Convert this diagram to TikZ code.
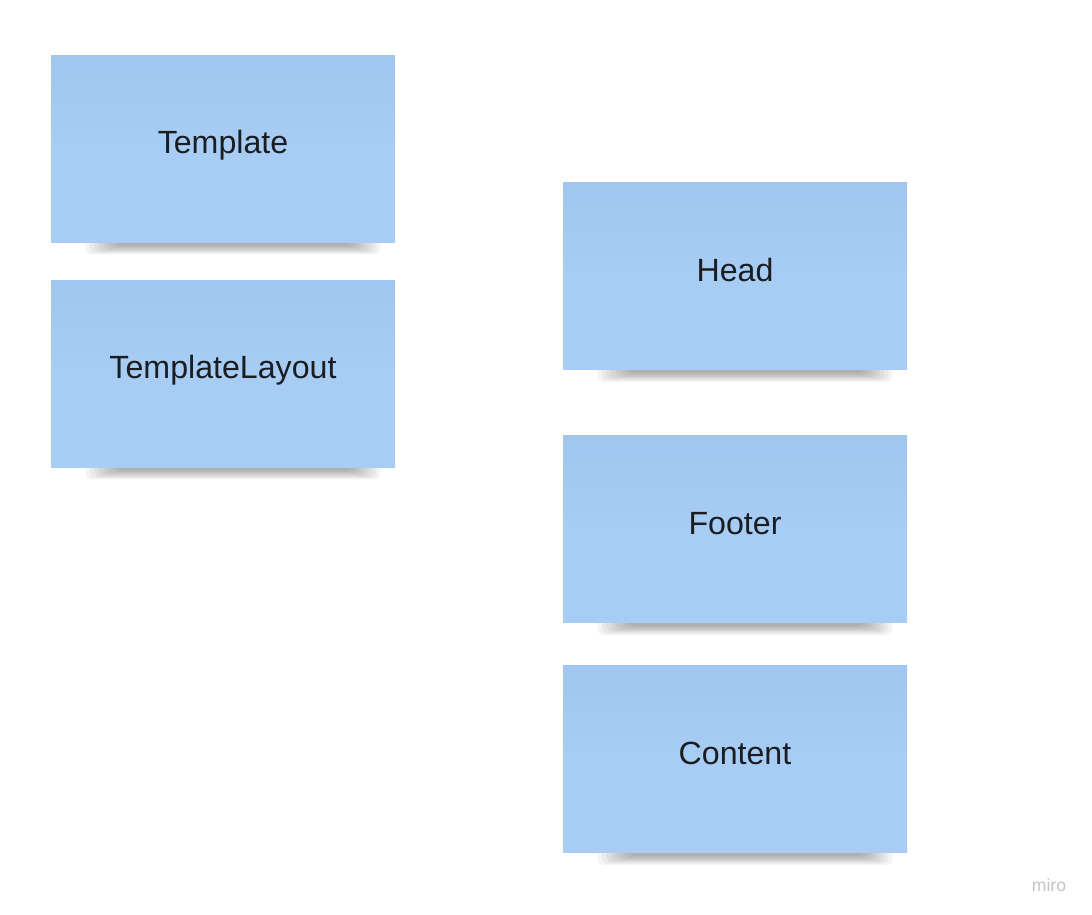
\documentclass[tikz,border=0pt]{standalone}
\usepackage{fontspec}
\setmainfont{Liberation Sans}
\usepackage{xcolor}
\usepackage{tikz}
\usetikzlibrary{positioning, calc, backgrounds}

\definecolor{stickytop}{HTML}{A1C6EF}
\definecolor{stickybase}{HTML}{A8CDF4}
\definecolor{stickytext}{HTML}{1A1D22}
\definecolor{watermark}{HTML}{C4C4C8}

\tikzset{
  sticky/.style={minimum width=6.88cm, minimum height=3.74cm, inner sep=0pt,
    top color=stickytop, bottom color=stickybase, middle color=stickybase,
    text=stickytext, font=\fontsize{18.3}{20}\selectfont,
    text height=0.45cm, text depth=0.24cm},
  noteshadow/.style={fill=black, opacity=0.045, rounded corners=3pt}
}

\begin{document}
\begin{tikzpicture}

  % --- Sticky notes ---
  \node[sticky] (tmpl)    at (4.46,-2.97)  {Template};
  \node[sticky] (layout)  at (4.46,-7.47)  {TemplateLayout};
  \node[sticky] (head)    at (14.70,-5.52) {Head};
  \node[sticky] (footer)  at (14.70,-10.58) {Footer};
  \node[sticky] (content) at (14.70,-15.18) {Content};

  % --- Canvas and shadows under the notes ---
  \begin{scope}[on background layer]
    \fill[white] (0,0) rectangle (21.84,-18.3);
    \foreach \n in {tmpl, layout, head, footer, content}
      \foreach \k in {0,...,7}
        \fill[noteshadow] ($(\n.south west)+(0.7+0.09*\k,-0.24+0.025*\k)$)
          rectangle ($(\n.south east)+(-0.3-0.08*\k,0.3)$);
  \end{scope}

  % Watermark
  \node[text=watermark, font=\fontsize{10}{12}\selectfont] (miro) at (20.98,-17.7) {miro};

  \useasboundingbox (0,0) rectangle (21.84,-18.3);

\end{tikzpicture}
\end{document}
